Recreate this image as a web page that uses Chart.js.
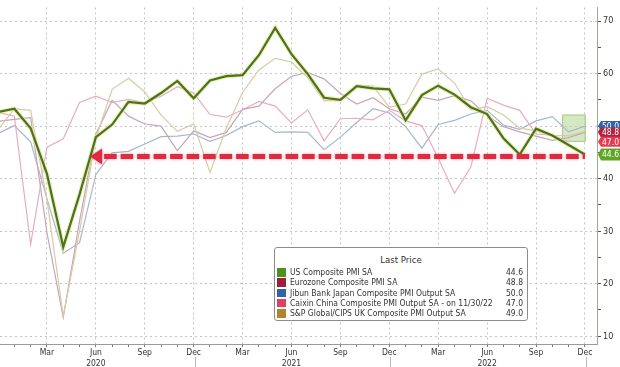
<!DOCTYPE html>
<html>
<head>
<meta charset="utf-8">
<script src="https://cdn.jsdelivr.net/npm/chart.js@4.4.1/dist/chart.umd.min.js"></script>
<style>
  body { margin: 0; background: #fff; }
  #wrap { position: relative; width: 620px; height: 367px; }
  #legend {
    position: absolute; left: 274px; top: 247px; width: 254px; height: 74px;
    box-sizing: border-box; border: 1px solid #8c8c8c; border-radius: 3px;
    background: #fff; color: #333;
    font-family: 'DejaVu Sans Condensed', 'Liberation Sans', sans-serif; font-size: 8.5px;
  }
  #legend .title { text-align: center; margin-top: 6px; height: 13px; font-size: 9.5px; }
  #legend .row { position: relative; height: 10.3px; line-height: 10.3px; padding-left: 15px; white-space: nowrap; }
  #legend .sw { position: absolute; left: 2px; top: 1px; width: 9px; height: 8.5px; }
  #legend .val { position: absolute; right: 4px; top: 0; }
</style>
</head>
<body>
<div id="wrap">
  <canvas id="chart"></canvas>
  <div id="legend"><div class="title">Last Price</div></div>
</div>
<script>
// monthly readings, Dec 2019 (index 0) to Dec 2022 (index 36)
const usPmi = [52.7, 53.3, 49.6, 40.9, 27.0, 37.0, 47.9, 50.3, 54.6, 54.3, 56.3, 58.6, 55.3,
  58.7, 59.5, 59.7, 63.5, 68.7, 63.7, 59.9, 55.4, 55.0, 57.6, 57.2, 57.0,
  51.1, 55.9, 57.7, 56.0, 53.6, 52.3, 47.7, 44.6, 49.5, 48.2, 46.4, 44.6];
const euroPmi = [50.9, 51.3, 51.6, 29.7, 13.6, 31.9, 48.5, 54.9, 51.9, 50.4, 50.0, 45.3, 49.1,
  47.8, 48.8, 53.2, 53.8, 57.1, 59.5, 60.2, 59.0, 56.2, 54.2, 55.4, 53.3,
  52.3, 55.5, 54.9, 55.8, 54.8, 52.0, 49.9, 48.9, 48.1, 47.3, 47.8, 48.8];
const japanPmi = [48.6, 50.1, 47.0, 36.2, 25.8, 27.8, 40.8, 44.9, 45.2, 46.6, 48.0, 48.1, 48.5,
  47.1, 48.2, 49.9, 51.0, 48.8, 48.9, 48.8, 45.5, 47.9, 50.7, 53.3, 52.5,
  49.9, 45.8, 50.3, 51.1, 52.3, 53.0, 50.2, 49.4, 51.0, 51.8, 48.9, 50.0];
// China ends Nov 2022
const chinaPmi = [52.6, 51.9, 27.5, 46.0, 47.6, 54.5, 55.7, 54.5, 55.1, 54.5, 55.7, 57.5, 56.3,
  52.2, 51.7, 53.1, 54.7, 53.8, 50.6, 53.1, 47.2, 51.4, 51.5, 51.2, 53.0,
  51.0, 50.1, 43.9, 37.2, 42.2, 55.3, 54.0, 53.0, 48.5, 48.3, 47.0];
const ukPmi = [49.3, 53.3, 53.0, 36.0, 13.8, 30.0, 47.7, 57.0, 59.1, 56.5, 52.1, 49.0, 50.4,
  41.2, 49.6, 56.4, 60.7, 62.9, 62.2, 59.2, 54.8, 54.9, 57.8, 57.6, 53.6,
  54.2, 59.9, 60.9, 58.2, 53.1, 53.7, 52.1, 49.6, 49.1, 48.2, 48.2, 49.0];

const seriesNames = ['US Composite PMI SA', 'Eurozone Composite PMI SA',
  'Jibun Bank Japan Composite PMI Output SA', 'Caixin China Composite PMI Output SA -  on 11/30/22',
  'S&P Global/CIPS UK Composite PMI Output SA'];
const lastValues = ['44.6', '48.8', '50.0', '47.0', '49.0'];
const keyColors = ['#4f8f1c', '#9c1f3c', '#2e66a8', '#e0415e', '#b0862a'];

const quarterLabels = { 0: 'Dec', 3: 'Mar', 6: 'Jun', 9: 'Sep' };
const startYear = 2019;
const yTicks = [10, 15, 20, 25, 30, 35, 40, 45, 50, 55, 60, 65, 70];

const arrowLevel = 44.2;       // red dashed guide
const arrowFrom = 5.65;
const arrowTo = 36;
const boxArea = { from: 34.6, to: 36.05, low: 47.0, high: 52.2 };

const toPoints = arr => arr.map((v, i) => ({ x: i, y: v }));

// legend rows
const legend = document.getElementById('legend');
seriesNames.forEach((name, i) => {
  const row = document.createElement('div');
  row.className = 'row';
  const sw = document.createElement('span');
  sw.className = 'sw';
  sw.style.background = keyColors[i];
  const txt = document.createElement('span');
  txt.textContent = name;
  const val = document.createElement('span');
  val.className = 'val';
  val.textContent = lastValues[i];
  row.append(sw, txt, val);
  legend.appendChild(row);
});

const decor = {
  id: 'decor',
  beforeDatasetsDraw(chart) {
    const { ctx, scales: { x, y } } = chart;
    const x0 = x.getPixelForValue(boxArea.from), x1 = x.getPixelForValue(boxArea.to);
    const y0 = y.getPixelForValue(boxArea.high), y1 = y.getPixelForValue(boxArea.low);
    ctx.save();
    ctx.fillStyle = 'rgba(184, 216, 156, 0.6)';
    ctx.strokeStyle = 'rgba(150, 196, 120, 0.8)';
    ctx.fillRect(x0, y0, x1 - x0, y1 - y0);
    ctx.strokeRect(x0 + 0.5, y0 + 0.5, x1 - x0 - 1, y1 - y0 - 1);
    ctx.restore();
  },
  afterDatasetsDraw(chart) {
    const { ctx, scales: { x, y } } = chart;
    const yy = y.getPixelForValue(arrowLevel);
    const tip = x.getPixelForValue(arrowFrom);
    const end = x.getPixelForValue(arrowTo);
    ctx.save();
    ctx.shadowColor = 'rgba(220, 40, 60, 0.5)';
    ctx.shadowBlur = 3;
    ctx.strokeStyle = '#e02a40';
    ctx.fillStyle = '#e02a40';
    ctx.lineWidth = 5;
    ctx.setLineDash([12.5, 4]);
    ctx.beginPath();
    ctx.moveTo(tip + 14, yy);
    ctx.lineTo(end, yy);
    ctx.stroke();
    ctx.setLineDash([]);
    ctx.beginPath();
    ctx.moveTo(tip, yy);
    ctx.lineTo(tip + 12, yy - 8);
    ctx.lineTo(tip + 12, yy + 8);
    ctx.closePath();
    ctx.fill();
    ctx.restore();
  },
  afterDraw(chart) {
    const { ctx, scales: { x, y } } = chart;
    ctx.save();
    // year separators under the Dec labels
    ctx.strokeStyle = '#b8b8b8';
    ctx.lineWidth = 1;
    [12, 24, 36].forEach(m => {
      const px = Math.round(x.getPixelForValue(m)) + 1.5;
      ctx.beginPath();
      ctx.moveTo(px, 357);
      ctx.lineTo(px, 367);
      ctx.stroke();
    });
    // last value tags on the right
    const order = [4, 2, 1, 3, 0];
    const tagFill = ['#5fa626', '#b0223e', '#2f62a6', '#e83a52', '#b88a2c'];
    ctx.font = '8.5px "DejaVu Sans Condensed", "Liberation Sans", sans-serif';
    ctx.textBaseline = 'middle';
    order.forEach(i => {
      const cy = y.getPixelForValue(parseFloat(lastValues[i]));
      const h = i === 0 ? 12 : 10;
      const left = x.right + 1;
      ctx.fillStyle = tagFill[i];
      ctx.beginPath();
      ctx.moveTo(left, cy);
      ctx.lineTo(left + 3, cy - h / 2);
      ctx.lineTo(620, cy - h / 2);
      ctx.lineTo(620, cy + h / 2);
      ctx.lineTo(left + 3, cy + h / 2);
      ctx.closePath();
      ctx.fill();
      ctx.fillStyle = '#fff';
      ctx.fillText(lastValues[i], left + 4, cy + 0.5);
    });
    ctx.restore();
  }
};

const thin = (label, data, color) => ({
  label, data: toPoints(data), borderColor: color, borderWidth: 1.2,
  pointRadius: 0, tension: 0, order: 3
});

new Chart(document.getElementById('chart'), {
  type: 'line',
  data: {
    datasets: [
      { label: 'US', data: toPoints(usPmi), borderColor: '#4e7219', borderWidth: 2.2, pointRadius: 0, order: 1 },
      { label: 'US glow', data: toPoints(usPmi), borderColor: 'rgba(218, 230, 150, 0.6)', borderWidth: 4.5, pointRadius: 0, order: 2 },
      thin('UK', ukPmi, '#d8caa4'),
      thin('Eurozone', euroPmi, '#c4a6ba'),
      thin('China', chinaPmi, '#e8acbf'),
      thin('Japan', japanPmi, '#a8b6cb')
    ]
  },
  options: {
    responsive: true,
    maintainAspectRatio: false,
    animation: false,
    layout: { padding: 0 },
    plugins: { legend: { display: false }, tooltip: { enabled: false } },
    scales: {
      x: {
        type: 'linear',
        min: 0.12,
        max: 36.74,
        afterBuildTicks(scale) {
          const t = [];
          for (let m = 1; m <= 36; m++) t.push({ value: m });
          scale.ticks = t;
        },
        afterFit(scale) { scale.height = 23; },
        ticks: {
          autoSkip: false,
          maxRotation: 0,
          padding: 1,
          color: '#333',
          font: { family: 'DejaVu Sans Condensed, Liberation Sans, sans-serif', size: 8.5 },
          callback(v) {
            const q = quarterLabels[v % 12];
            if (q === undefined) return '';
            if (v % 12 === 6) return [q, String(startYear + Math.ceil(v / 12))];
            return q;
          }
        },
        grid: {
          color: c => (c.tick && c.tick.value % 3 === 0) ? '#c4c4cc' : 'rgba(0,0,0,0)',
          tickColor: '#777',
          tickLength: 3,
          lineWidth: 1
        },
        border: { display: true, color: '#9a9a9a', dash: [2, 3] }
      },
      y: {
        position: 'right',
        min: 8.52,
        max: 72.6,
        afterBuildTicks(scale) { scale.ticks = yTicks.map(v => ({ value: v })); },
        afterFit(scale) { scale.width = 23; },
        ticks: {
          padding: 2,
          color: '#333',
          font: { family: 'DejaVu Sans Condensed, Liberation Sans, sans-serif', size: 9 },
          callback: v => (v % 10 === 0 ? v : '')
        },
        grid: {
          color: c => (c.tick && c.tick.value % 10 === 0) ? '#c4c4cc' : 'rgba(0,0,0,0)',
          tickColor: '#555',
          tickLength: 4
        },
        border: { display: true, color: '#a3a892', dash: [2, 3] }
      }
    }
  },
  plugins: [decor]
});
</script>
</body>
</html>
